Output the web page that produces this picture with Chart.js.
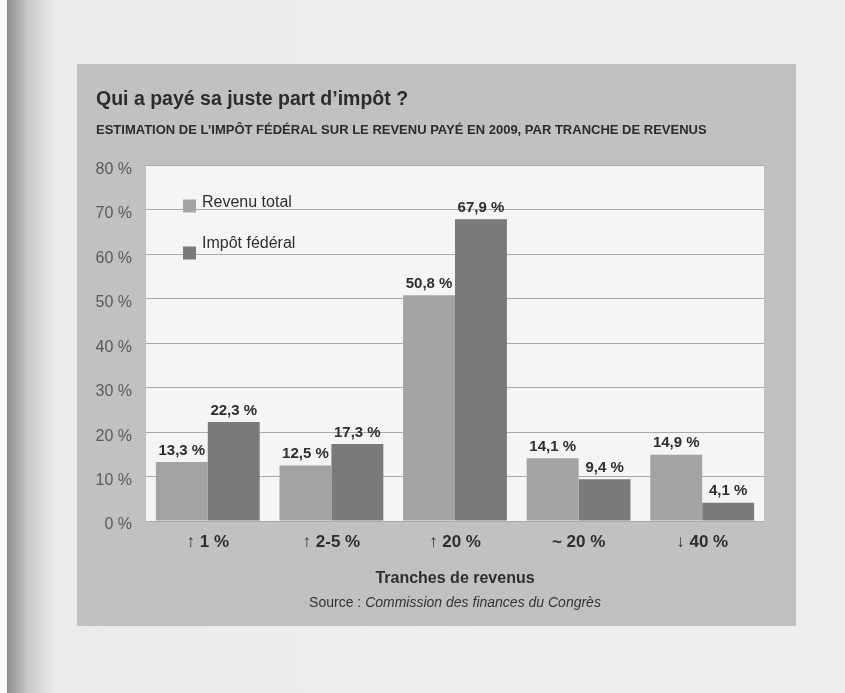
<!DOCTYPE html>
<html>
<head>
<meta charset="utf-8">
<script src="https://cdn.jsdelivr.net/npm/chart.js@4.4.0/dist/chart.umd.min.js"></script>
<style>
  html, body { margin: 0; padding: 0; }
  body {
    width: 845px; height: 693px; overflow: hidden;
    background: linear-gradient(to right, #fafafa 0, #fafafa 7px, #8c8c8c 7px, #c9c9c9 28px, #ececea 55px, #efefed 100%);
  }
  #panel {
    position: absolute; left: 77px; top: 64px; width: 719px; height: 562px;
    background: #c1c1c1;
  }
  #source {
    position: absolute; left: 69px; width: 618px; top: 530px;
    text-align: center; font: 14px 'Liberation Sans', Arial, sans-serif; color: #333;
  }
</style>
</head>
<body>
<div id="panel">
  <canvas id="wykres" width="719" height="562"></canvas>
  <div id="source">Source : <i>Commission des finances du Congrès</i></div>
</div>
<script>
const tranches = ["↑ 1 %", "↑ 2-5 %", "↑ 20 %", "~ 20 %", "↓ 40 %"];
const revenuTotal = [13.3, 12.5, 50.8, 14.1, 14.9];
const impotFederal = [22.3, 17.3, 67.9, 9.4, 4.1];
const ticksY = [0, 10, 20, 30, 40, 50, 60, 70, 80];

const FONT = "'Liberation Sans', Arial, sans-serif";
Chart.defaults.font.family = FONT;
Chart.defaults.color = "#333";

const fmt = v => v.toFixed(1).replace(".", ",") + " %";

// fond blanc de la zone du graphique
const fondZone = {
  id: "fondZone",
  beforeDraw(chart) {
    const {ctx, chartArea: a} = chart;
    ctx.save();
    ctx.fillStyle = "#f5f5f3";
    ctx.fillRect(a.left, a.top, a.right - a.left, a.bottom - a.top);
    ctx.restore();
  }
};

// valeurs au-dessus des barres + legende dans la zone
const etiquettes = {
  id: "etiquettes",
  afterDatasetsDraw(chart) {
    const {ctx, chartArea: a} = chart;
    ctx.save();
    ctx.font = "bold 15px " + FONT;
    ctx.fillStyle = "#2e2e2e";
    ctx.textAlign = "center";
    ctx.textBaseline = "bottom";
    chart.data.datasets.forEach((ds, i) => {
      chart.getDatasetMeta(i).data.forEach((bar, j) => {
        ctx.fillText(fmt(ds.data[j]), bar.x, bar.y - 4);
      });
    });
    // legende
    ctx.textAlign = "left";
    ctx.textBaseline = "middle";
    ctx.font = "16px " + FONT;
    chart.data.datasets.forEach((ds, i) => {
      const x = a.left + 37;
      ctx.fillStyle = ds.backgroundColor;
      ctx.fillRect(x, a.top + 34 + 47 * i, 13, 13);
      ctx.fillStyle = "#2e2e2e";
      ctx.fillText(ds.label, x + 19, a.top + 37 + 41 * i);
    });
    ctx.restore();
  }
};

new Chart(document.getElementById("wykres").getContext("2d"), {
  type: "bar",
  data: {
    labels: tranches,
    datasets: [
      {label: "Revenu total", data: revenuTotal, backgroundColor: "#a3a3a3"},
      {label: "Impôt fédéral", data: impotFederal, backgroundColor: "#7a7a7a"}
    ]
  },
  options: {
    responsive: false,
    animation: false,
    layout: {padding: {left: 19, right: 32, top: 0, bottom: 38}},
    datasets: {bar: {categoryPercentage: 0.84, barPercentage: 1}},
    scales: {
      y: {
        min: 0, max: 80,
        afterBuildTicks: s => { s.ticks = ticksY.map(v => ({value: v})); },
        afterFit: s => { s.width = 50; },
        border: {display: false},
        grid: {color: "#a9a9a9", drawTicks: false},
        ticks: {
          padding: 14, labelOffset: 4, color: "#5a5a5a",
          font: {size: 16},
          callback: v => v + " %"
        }
      },
      x: {
        afterFit: s => { s.height = 67; },
        border: {display: false},
        grid: {display: false},
        ticks: {padding: 3, color: "#2e2e2e", font: {size: 17, weight: "bold"}},
        title: {
          display: true, text: "Tranches de revenus", color: "#2e2e2e",
          font: {size: 16, weight: "bold"}, padding: {top: 0, bottom: 0}
        }
      }
    },
    plugins: {
      legend: {display: false},
      tooltip: {enabled: false},
      title: {
        display: true, align: "start", text: "Qui a payé sa juste part d’impôt ?",
        color: "#2b2b2b", font: {size: 19.5, weight: "bold"},
        padding: {top: 24, bottom: 0}
      },
      subtitle: {
        display: true, align: "start",
        text: "ESTIMATION DE L’IMPÔT FÉDÉRAL SUR LE REVENU PAYÉ EN 2009, PAR TRANCHE DE REVENUS",
        color: "#2b2b2b", font: {size: 13, weight: "bold"},
        padding: {top: 11.5, bottom: 27}
      }
    }
  },
  plugins: [fondZone, etiquettes]
});
</script>
</body>
</html>
